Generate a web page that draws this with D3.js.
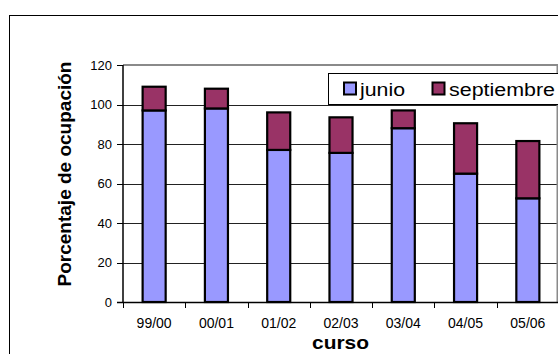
<!DOCTYPE html>
<html>
<head>
<meta charset="utf-8">
<script src="https://cdn.jsdelivr.net/npm/d3@7"></script>
<style>
  html, body { margin: 0; padding: 0; background: #fff; }
  svg { display: block; font-family: "Liberation Sans", Arial, sans-serif; }
</style>
</head>
<body>
<svg id="chart" width="558" height="354"></svg>
<script>
// Academic years
const cursos = ["99/00", "00/01", "01/02", "02/03", "03/04", "04/05", "05/06"];
// Occupancy percentage filled in June
const junio = [97, 98, 77, 75.5, 88, 65, 52.5];
// Additional occupancy percentage filled in September
const septiembre = [12, 10, 19, 18, 9, 25.5, 29];
// Series names and colours
const seriesNames = ["junio", "septiembre"];
const seriesColors = ["#9999FF", "#993366"];
// Y axis ticks
const yTicks = [0, 20, 40, 60, 80, 100, 120];

const svg = d3.select("#chart");

// Outer chart frame (continues past the right and bottom edges)
svg.append("rect")
  .attr("x", 9.5).attr("y", 15.5)
  .attr("width", 600).attr("height", 400)
  .attr("fill", "#fff").attr("stroke", "#000").attr("stroke-width", 1);

const plot = { left: 123, right: 559, top: 65, bottom: 302 };

const x = d3.scaleBand()
  .domain(cursos)
  .range([plot.left, plot.right])
  .paddingInner(0.63)
  .paddingOuter(0.315);

const y = d3.scaleLinear()
  .domain([0, 120])
  .range([plot.bottom, plot.top]);

// Gridlines
svg.append("g")
  .selectAll("line")
  .data(yTicks.filter(d => d > 0 && d < 120))
  .join("line")
  .attr("x1", plot.left).attr("x2", plot.right)
  .attr("y1", d => Math.round(y(d)) + 0.5).attr("y2", d => Math.round(y(d)) + 0.5)
  .attr("stroke", "#222").attr("stroke-width", 1);

// Plot area border (top and right)
svg.append("path")
  .attr("d", `M${plot.left},${plot.top}H${plot.right - 1.5}V${plot.bottom}`)
  .attr("fill", "none").attr("stroke", "#8a8a8a").attr("stroke-width", 2);

// Stacked bars
const stackData = cursos.map((c, i) => ({ curso: c, junio: junio[i], septiembre: septiembre[i] }));
const stacked = d3.stack().keys(seriesNames)(stackData);

svg.append("g")
  .selectAll("g")
  .data(stacked)
  .join("g")
  .attr("fill", (d, i) => seriesColors[i])
  .selectAll("rect")
  .data(d => d)
  .join("rect")
  .attr("x", d => x(d.data.curso))
  .attr("width", x.bandwidth())
  .attr("y", d => y(d[1]))
  .attr("height", d => y(d[0]) - y(d[1]))
  .attr("stroke", "#000")
  .attr("stroke-width", 2.2);

// Y axis
const yAxis = svg.append("g");
yAxis.append("line")
  .attr("x1", plot.left).attr("x2", plot.left)
  .attr("y1", plot.top).attr("y2", plot.bottom)
  .attr("stroke", "#000").attr("stroke-width", 1.5);
yAxis.selectAll("line.tick")
  .data(yTicks)
  .join("line")
  .attr("class", "tick")
  .attr("x1", plot.left - 6).attr("x2", plot.left)
  .attr("y1", d => Math.round(y(d)) + 0.5).attr("y2", d => Math.round(y(d)) + 0.5)
  .attr("stroke", "#000").attr("stroke-width", 1);
yAxis.selectAll("text")
  .data(yTicks)
  .join("text")
  .attr("x", 112)
  .attr("y", d => y(d) + 4.5)
  .attr("text-anchor", "end")
  .attr("font-size", 13)
  .attr("fill", "#000")
  .text(d => d);

// X axis
const xAxis = svg.append("g");
xAxis.append("line")
  .attr("x1", plot.left - 6).attr("x2", plot.right)
  .attr("y1", plot.bottom + 0.5).attr("y2", plot.bottom + 0.5)
  .attr("stroke", "#000").attr("stroke-width", 1.5);
const boundaries = d3.range(cursos.length + 1).map(i => plot.left + i * x.step());
xAxis.selectAll("line.tick")
  .data(boundaries)
  .join("line")
  .attr("class", "tick")
  .attr("x1", d => Math.round(d) + 0.5).attr("x2", d => Math.round(d) + 0.5)
  .attr("y1", plot.bottom).attr("y2", plot.bottom + 6)
  .attr("stroke", "#000").attr("stroke-width", 1);
xAxis.selectAll("text")
  .data(cursos)
  .join("text")
  .attr("x", d => x(d) + x.bandwidth() / 2)
  .attr("y", 328)
  .attr("text-anchor", "middle")
  .attr("font-size", 14)
  .attr("fill", "#000")
  .text(d => d);

// Axis titles
svg.append("text")
  .attr("transform", "translate(71,174) rotate(-90)")
  .attr("text-anchor", "middle")
  .attr("font-size", 19)
  .attr("font-weight", "bold")
  .text("Porcentaje de ocupación");

svg.append("text")
  .attr("x", 312)
  .attr("y", 349)
  .attr("font-size", 19)
  .attr("font-weight", "bold")
  .attr("textLength", 57)
  .attr("lengthAdjust", "spacingAndGlyphs")
  .text("curso");

// Legend
const legend = svg.append("g");
legend.append("rect")
  .attr("x", 328.5).attr("y", 73.5)
  .attr("width", 260).attr("height", 31)
  .attr("fill", "#fff").attr("stroke", "#000").attr("stroke-width", 1);
const legendPos = [{ mx: 344, tx: 360, tl: 45 }, { mx: 432.5, tx: 449, tl: 106 }];
const items = legend.selectAll("g.item")
  .data(seriesNames)
  .join("g")
  .attr("class", "item");
items.append("rect")
  .attr("x", (d, i) => legendPos[i].mx)
  .attr("y", 82.5)
  .attr("width", 12).attr("height", 12)
  .attr("fill", (d, i) => seriesColors[i])
  .attr("stroke", "#000").attr("stroke-width", 2);
items.append("text")
  .attr("x", (d, i) => legendPos[i].tx)
  .attr("y", 95.5)
  .attr("font-size", 18)
  .attr("textLength", (d, i) => legendPos[i].tl)
  .attr("lengthAdjust", "spacingAndGlyphs")
  .text(d => d);
</script>
</body>
</html>
